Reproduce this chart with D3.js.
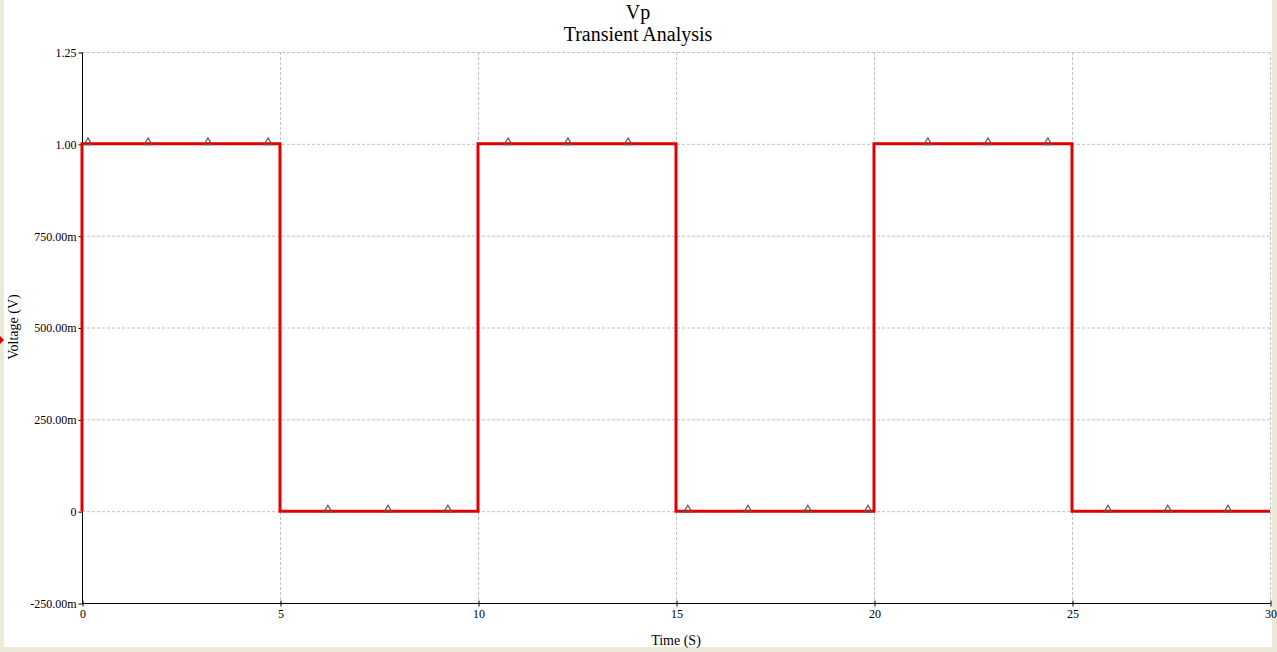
<!DOCTYPE html>
<html><head><meta charset="utf-8">
<script src="https://cdn.jsdelivr.net/npm/d3@7"></script>
<style>
html,body{margin:0;padding:0;background:#fff;}
svg{display:block;}
text{font-family:"Liberation Serif","Times New Roman",serif;fill:#000;}
</style></head>
<body>
<svg id="c" width="1277" height="652"></svg>
<script>
const titleLines = ["Vp", "Transient Analysis"];
const xLabel = "Time (S)";
const yLabel = "Voltage (V)";
const xTicks = [0, 5, 10, 15, 20, 25, 30];
const yTicks = [-0.25, 0, 0.25, 0.5, 0.75, 1.0, 1.25];
const yTickLabels = ["-250.00m", "0", "250.00m", "500.00m", "750.00m", "1.00", "1.25"];
const traceTime = [0, 0, 5, 5, 10, 10, 15, 15, 20, 20, 25, 25, 30];
const traceVolt = [0, 1, 1, 0, 0, 1, 1, 0, 0, 1, 1, 0, 0];
const markerTime = [0.15, 1.67, 3.18, 4.70, 6.21, 7.73, 9.24, 10.76, 12.27, 13.79, 15.30, 16.82, 18.33, 19.85, 21.36, 22.88, 24.39, 25.91, 27.42, 28.94];
const markerVolt = [1, 1, 1, 1, 0, 0, 0, 1, 1, 1, 0, 0, 0, 0, 1, 1, 1, 0, 0, 0];

const svg = d3.select("#c");
const W = 1277, H = 652;
// frame
svg.append("rect").attr("x",0).attr("y",0).attr("width",W).attr("height",H).attr("fill","#ece9d8");
svg.append("rect").attr("x",4).attr("y",0).attr("width",1268).attr("height",647).attr("fill","#fff");

const L = 82, R = 1270, T = 52, B = 603;
const x = d3.scaleLinear().domain([0,30]).range([L,R]);
const y = d3.scaleLinear().domain([-0.25,1.25]).range([B,T]);

// grid
const g = svg.append("g");
g.selectAll("line.vg").data(xTicks.filter(d=>d>0)).enter().append("line")
  .attr("x1",d=>x(d)+0.5).attr("x2",d=>x(d)+0.5).attr("y1",T).attr("y2",B)
  .attr("stroke","#c0c0c0").attr("stroke-dasharray","3,2").attr("stroke-width",1);
g.selectAll("line.hg").data(yTicks.filter(d=>d>-0.25)).enter().append("line")
  .attr("x1",L).attr("x2",R).attr("y1",d=>y(d)+0.5).attr("y2",d=>y(d)+0.5)
  .attr("stroke","#c0c0c0").attr("stroke-dasharray","3,2").attr("stroke-width",1);

// axes
const yAxis = d3.axisLeft(y).tickValues(yTicks).tickFormat((d,i)=>yTickLabels[i]).tickSize(4).tickPadding(2);
const xAxis = d3.axisBottom(x).tickValues(xTicks).tickFormat(d=>d).tickSize(4).tickPadding(2);
const ya = svg.append("g").attr("transform",`translate(${L+0.5},0.5)`).call(yAxis);
const xa = svg.append("g").attr("transform",`translate(0.5,${B+0.5})`).call(xAxis);
[ya,xa].forEach(a=>{
  a.select(".domain").attr("stroke","#000");
  a.selectAll(".tick line").attr("stroke","#000");
  a.selectAll(".tick text").attr("font-size","12px").attr("font-family","Liberation Serif, serif").attr("fill","#000");
});
ya.select(".domain").attr("d",`M0,${T}V${B}`);
xa.select(".domain").attr("d",`M${L},0H${R}`);
xa.selectAll(".tick line").attr("y1",-3).attr("y2",3);
ya.selectAll(".tick line").attr("x1",-4).attr("x2",0);

// trace
const pts = traceTime.map((t,i)=>[t, traceVolt[i]]);
svg.append("path").datum(pts)
  .attr("d", d3.line().x(d=>x(d[0])).y(d=>y(d[1])))
  .attr("fill","none").attr("stroke","#e00000").attr("stroke-width",3);

// markers
const tri = d3.symbol().type(d3.symbolTriangle).size(26);
svg.selectAll("path.mk").data(markerTime.map((t,i)=>[t,markerVolt[i]])).enter().append("path")
  .attr("d",tri).attr("transform",d=>`translate(${x(d[0])},${y(d[1])-1.5})`)
  .attr("fill","none").attr("stroke","#7a4a4a").attr("stroke-width",1.2);

// titles
svg.append("text").attr("x",638).attr("y",19).attr("text-anchor","middle").attr("font-size","20px").text(titleLines[0]);
svg.append("text").attr("x",638).attr("y",41).attr("text-anchor","middle").attr("font-size","20px").text(titleLines[1]);
svg.append("text").attr("x",676).attr("y",645).attr("text-anchor","middle").attr("font-size","14px").text(xLabel);
svg.append("text").attr("transform","translate(18,327) rotate(-90)").attr("text-anchor","middle").attr("font-size","14px").text(yLabel);
// left-edge marker
svg.append("path").attr("d","M0,336 L4,340 L0,344 Z").attr("fill","#e00000");
</script>
</body></html>
